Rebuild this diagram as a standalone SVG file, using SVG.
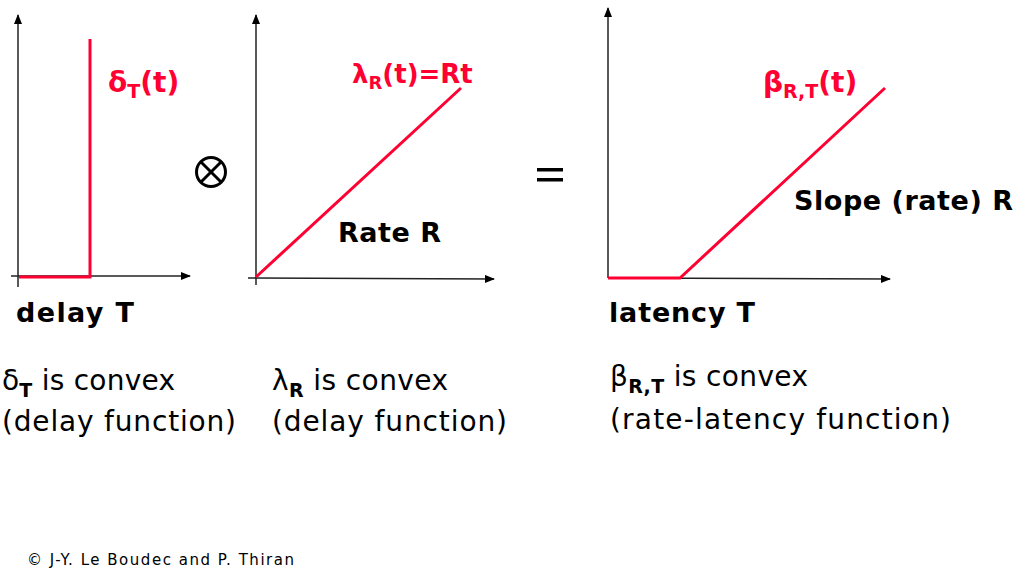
<svg xmlns="http://www.w3.org/2000/svg" width="1021" height="587" viewBox="0 0 1021 587">
<style>
.ax{stroke:#222;stroke-width:1.5;fill:none}
.red{stroke:#ff0033;stroke-width:3;fill:none}
.lab{font-family:"DejaVu Sans","Liberation Sans",sans-serif;font-weight:bold;font-size:27px}
.rl{fill:#ff0033;font-size:28px}
.bl{fill:#000}
.cap{font-family:"DejaVu Sans","Liberation Sans",sans-serif;font-size:28px;fill:#000}
.sub{font-size:19px;font-weight:bold}
</style>
<defs>
<marker id="ar" markerWidth="10" markerHeight="8" refX="9" refY="4" orient="auto" markerUnits="userSpaceOnUse">
<path d="M0,0 L10,4 L0,8 Z" fill="#000"/>
</marker>
</defs>
<g id="connectors">
<line class="ax" x1="18" y1="287" x2="18" y2="15" marker-end="url(#ar)"/>
<line class="ax" x1="11" y1="276" x2="190" y2="276" marker-end="url(#ar)"/>
<line class="ax" x1="256" y1="285" x2="256" y2="15" marker-end="url(#ar)"/>
<line class="ax" x1="248" y1="278" x2="494" y2="279" marker-end="url(#ar)"/>
<line class="ax" x1="608" y1="278" x2="608" y2="8" marker-end="url(#ar)"/>
<line class="ax" x1="608" y1="278" x2="890" y2="279" marker-end="url(#ar)"/>
</g>
<g id="delay">
<polyline class="red" points="19,277 90,277 90,39"/>
<text class="lab rl" x="108" y="92">δ<tspan class="sub" dy="6">T</tspan><tspan dy="-6">(t)</tspan></text>
<text class="lab bl" x="16" y="322" textLength="118">delay T</text>
</g>
<g id="otimes">
<circle cx="211" cy="172" r="14.5" fill="none" stroke="#000" stroke-width="3"/>
<line x1="201" y1="162" x2="221" y2="182" stroke="#000" stroke-width="3"/>
<line x1="221" y1="162" x2="201" y2="182" stroke="#000" stroke-width="3"/>
</g>
<g id="rate">
<line class="red" x1="256" y1="277" x2="461" y2="88"/>
<text class="lab rl" x="352" y="83" font-size="26" style="font-size:26px">λ<tspan class="sub" dy="6" style="font-size:18px">R</tspan><tspan dy="-6">(t)=Rt</tspan></text>
<text class="lab bl" x="338" y="242" textLength="103">Rate R</text>
</g>
<g id="equals">
<rect x="537" y="168" width="26" height="3.5" fill="#000"/>
<rect x="537" y="178" width="26" height="3.5" fill="#000"/>
</g>
<g id="ratelatency">
<polyline class="red" points="608,278 680,278 885,88"/>
<text class="lab rl" x="763" y="92">β<tspan class="sub" dy="6">R,T</tspan><tspan dy="-6">(t)</tspan></text>
<text class="lab bl" x="794" y="210" textLength="219">Slope (rate) R</text>
<text class="lab bl" x="609" y="322" textLength="146">latency T</text>
</g>
<g id="captions">
<text class="cap" x="2" y="390" textLength="173">δ<tspan class="sub" dy="7">T</tspan><tspan dy="-7"> is convex</tspan></text>
<text class="cap" x="2" y="431" textLength="234">(delay function)</text>
<text class="cap" x="272" y="390" textLength="176">λ<tspan class="sub" dy="7">R</tspan><tspan dy="-7"> is convex</tspan></text>
<text class="cap" x="272" y="431" textLength="235">(delay function)</text>
<text class="cap" x="610" y="386" textLength="198">β<tspan class="sub" dy="7">R,T</tspan><tspan dy="-7"> is convex</tspan></text>
<text class="cap" x="610" y="429" textLength="341">(rate-latency function)</text>
<text x="27" y="565" font-family="DejaVu Sans,Liberation Sans,sans-serif" font-size="15" fill="#000" textLength="267">© J-Y. Le Boudec and P. Thiran</text>
</g>
</svg>
